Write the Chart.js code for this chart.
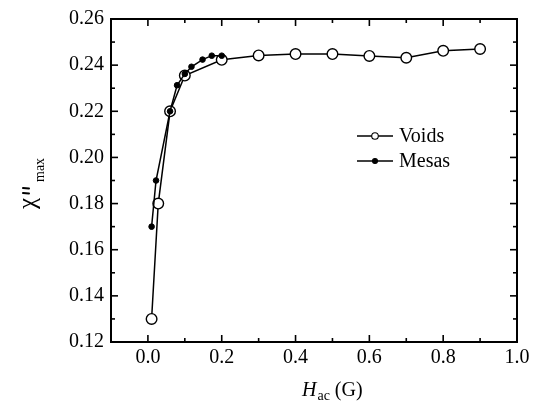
<!DOCTYPE html>
<html>
<head>
<meta charset="utf-8">
<script src="https://cdn.jsdelivr.net/npm/chart.js@4.4.1/dist/chart.umd.min.js"></script>
<style>
  body { margin: 0; background: #fff; }
  canvas { display: block; }
</style>
</head>
<body>
<canvas id="chart" width="542" height="402"></canvas>
<script>
// values
const voidsH = [0.010, 0.028, 0.060, 0.100, 0.200, 0.300, 0.400, 0.500, 0.600, 0.700, 0.800, 0.900];
const voidsChi = [0.130, 0.180, 0.220, 0.2355, 0.2423, 0.2442, 0.2448, 0.2448, 0.2440, 0.2432, 0.2462, 0.2470];
const mesasH = [0.010, 0.022, 0.060, 0.079, 0.100, 0.118, 0.148, 0.173, 0.200];
const mesasChi = [0.170, 0.190, 0.220, 0.2313, 0.2362, 0.2393, 0.2424, 0.2441, 0.2441];

const xTicks = [0.0, 0.2, 0.4, 0.6, 0.8, 1.0];
const xMinor = [-0.1, 0.1, 0.3, 0.5, 0.7, 0.9];
const yTicks = [0.12, 0.14, 0.16, 0.18, 0.20, 0.22, 0.24, 0.26];
const yMinor = [0.13, 0.15, 0.17, 0.19, 0.21, 0.23, 0.25];

const FONT = '"Liberation Serif", "Times New Roman", serif';

const pts = (xs, ys) => xs.map((x, i) => ({ x: x, y: ys[i] }));

// frame with inward ticks, axis titles and the legend
const decor = {
  id: "decor",
  beforeDatasetsDraw(chart) {
    const { ctx, chartArea: a, scales } = chart;
    const x = scales.x, y = scales.y;
    ctx.save();
    ctx.strokeStyle = "#000";
    ctx.lineWidth = 1.6;
    const tick = (x1, y1, x2, y2) => { ctx.beginPath(); ctx.moveTo(x1, y1); ctx.lineTo(x2, y2); ctx.stroke(); };
    xTicks.forEach(v => { const p = x.getPixelForValue(v); tick(p, a.bottom, p, a.bottom - 7); tick(p, a.top, p, a.top + 7); });
    xMinor.forEach(v => { const p = x.getPixelForValue(v); tick(p, a.bottom, p, a.bottom - 4); tick(p, a.top, p, a.top + 4); });
    yTicks.forEach(v => { const p = y.getPixelForValue(v); tick(a.left, p, a.left + 7, p); tick(a.right, p, a.right - 7, p); });
    yMinor.forEach(v => { const p = y.getPixelForValue(v); tick(a.left, p, a.left + 4, p); tick(a.right, p, a.right - 4, p); });
    ctx.lineWidth = 2;
    ctx.strokeRect(a.left, a.top, a.right - a.left, a.bottom - a.top);
    ctx.restore();
  },
  afterDraw(chart) {
    const ctx = chart.ctx;
    ctx.save();
    ctx.fillStyle = "#000";
    ctx.textBaseline = "alphabetic";

    // x title: H_ac (G)
    let tx = 302;
    ctx.font = "italic 20px " + FONT;
    ctx.fillText("H", tx, 396);
    tx += ctx.measureText("H").width + 1;
    ctx.font = "14px " + FONT;
    ctx.fillText("ac", tx, 400);
    tx += ctx.measureText("ac").width;
    ctx.font = "20px " + FONT;
    ctx.fillText(" (G)", tx, 396);

    // y title: chi''_max, rotated
    ctx.save();
    ctx.translate(35, 209);
    ctx.rotate(-Math.PI / 2);
    ctx.font = "25px " + FONT;
    ctx.fillText("\u03C7", 0, 0);
    ctx.strokeStyle = "#000";
    ctx.lineWidth = 2;
    ctx.lineCap = "round";
    [16, 21].forEach(p => { ctx.beginPath(); ctx.moveTo(p, -12); ctx.lineTo(p - 0.5, -6); ctx.stroke(); });
    ctx.font = "14px " + FONT;
    ctx.fillText("max", 27, 9);
    ctx.restore();

    // legend
    const rows = [
      { label: "Voids", y: 136, fill: "#fff", r: 3.3 },
      { label: "Mesas", y: 161, fill: "#000", r: 2.5 }
    ];
    rows.forEach(r => {
      ctx.strokeStyle = "#000";
      ctx.lineWidth = 1.5;
      ctx.beginPath(); ctx.moveTo(357, r.y); ctx.lineTo(393, r.y); ctx.stroke();
      ctx.beginPath(); ctx.arc(375, r.y, r.r, 0, Math.PI * 2);
      ctx.fillStyle = r.fill; ctx.fill(); ctx.lineWidth = 1.1; ctx.stroke();
      ctx.fillStyle = "#000";
      ctx.font = "20px " + FONT;
      ctx.textBaseline = "middle";
      ctx.fillText(r.label, 399, r.y + 1);
    });
    ctx.restore();
  }
};

new Chart(document.getElementById("chart"), {
  type: "line",
  data: {
    datasets: [
      {
        label: "Voids",
        data: pts(voidsH, voidsChi),
        borderColor: "#000",
        borderWidth: 1.5,
        pointRadius: 5.3,
        pointBackgroundColor: "#fff",
        pointBorderColor: "#000",
        pointBorderWidth: 1.4,
        order: 1
      },
      {
        label: "Mesas",
        data: pts(mesasH, mesasChi),
        borderColor: "#000",
        borderWidth: 1.5,
        pointRadius: 2.8,
        pointBackgroundColor: "#000",
        pointBorderColor: "#000",
        pointBorderWidth: 1,
        order: 0
      }
    ]
  },
  options: {
    responsive: false,
    animation: false,
    devicePixelRatio: 1,
    layout: { padding: { top: 15, right: 25, left: 0, bottom: 0 } },
    plugins: { legend: { display: false }, tooltip: { enabled: false } },
    scales: {
      x: {
        type: "linear",
        position: "bottom",
        min: -0.1,
        max: 1.0,
        afterBuildTicks: s => { s.ticks = xTicks.map(v => ({ value: v })); },
        afterFit: s => { s.height = 60; },
        grid: { display: false, drawTicks: false },
        border: { display: false },
        ticks: {
          color: "#000",
          font: { family: FONT, size: 20 },
          padding: 4,
          maxRotation: 0,
          autoSkip: false,
          callback: v => v.toFixed(1)
        }
      },
      y: {
        type: "linear",
        min: 0.12,
        max: 0.26,
        afterBuildTicks: s => { s.ticks = yTicks.map(v => ({ value: v })); },
        afterFit: s => { s.width = 111; },
        grid: { display: false, drawTicks: false },
        border: { display: false },
        ticks: {
          color: "#000",
          font: { family: FONT, size: 20 },
          padding: 7,
          autoSkip: false,
          callback: v => v.toFixed(2)
        }
      }
    }
  },
  plugins: [decor]
});
</script>
</body>
</html>
